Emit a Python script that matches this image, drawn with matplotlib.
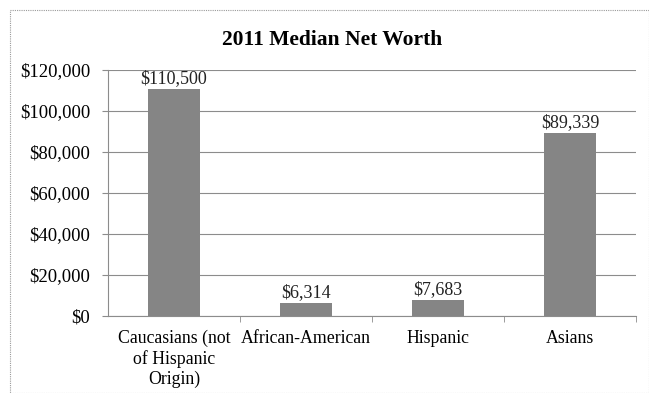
import matplotlib.pyplot as plt
from matplotlib.patches import Rectangle
from matplotlib.ticker import FuncFormatter

groups = ['Caucasians (not\nof Hispanic\nOrigin)', 'African-American', 'Hispanic', 'Asians']
net_worth = [110500, 6314, 7683, 89339]
y_ticks = [0, 20000, 40000, 60000, 80000, 100000, 120000]

plt.rcParams['font.family'] = ['Liberation Serif', 'DejaVu Serif']

fig = plt.figure(figsize=(6.49, 3.93), dpi=100)
ax = fig.add_axes([108 / 649, 1 - 316 / 393, 528 / 649, 246 / 393])

# dotted frame round the whole chart area
fig.patches.append(Rectangle((10 / 649, 0.0), 639 / 649, 1 - 10 / 393,
                             transform=fig.transFigure, fill=False,
                             edgecolor='#9a9a9a', linewidth=0.8, linestyle=(0, (1, 1))))

x = range(len(groups))
bars = ax.bar(x, net_worth, width=0.4, color='#858585', zorder=3)
for b, v in zip(bars, net_worth):
    ax.text(b.get_x() + b.get_width() / 2, v + 1000, '${:,}'.format(v),
            ha='center', va='bottom', fontsize=13, color='#222222')

ax.set_xlim(-0.5, len(groups) - 0.5)
ax.set_ylim(0, 120000)
ax.set_yticks(y_ticks)
ax.yaxis.set_major_formatter(FuncFormatter(lambda v, p: '${:,.0f}'.format(v)))
ax.yaxis.grid(True, color='#8c8c8c', linewidth=0.8, zorder=0)

ax.set_xticks(list(x))
ax.set_xticklabels(groups, fontsize=12.8, linespacing=1.22)
ax.tick_params(axis='x', length=0, pad=10)
ax.set_xticks([0.5, 1.5, 2.5, 3.5], minor=True)
ax.tick_params(axis='x', which='minor', length=4, color='#8c8c8c', direction='out')
ax.tick_params(axis='y', labelsize=13.5, length=4, color='#8c8c8c', pad=9)

for s in ['top', 'right']:
    ax.spines[s].set_visible(False)
for s in ['left', 'bottom']:
    ax.spines[s].set_color('#8c8c8c')
    ax.spines[s].set_linewidth(0.8)

fig.text(0.5 * (222 + 442) / 649, 1 - 40 / 393, '2011 Median Net Worth',
         ha='center', va='center', fontsize=15.5, fontweight='bold')

fig.savefig('out.png', dpi=100)
